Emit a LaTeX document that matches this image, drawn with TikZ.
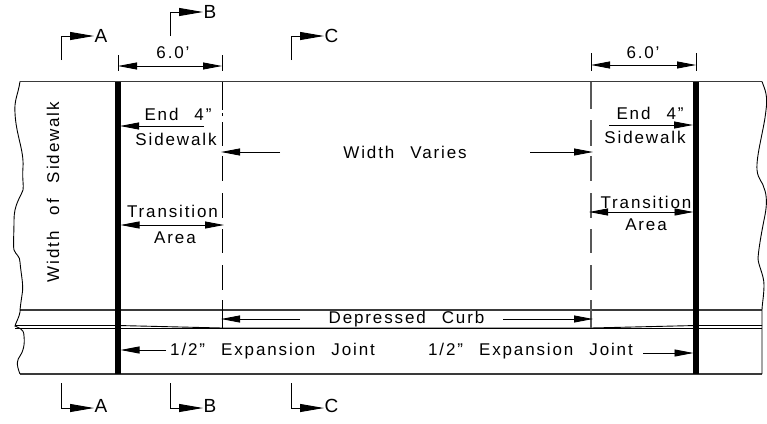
\documentclass[tikz,border=0pt]{standalone}
\usepackage{fontspec}
\setmainfont[LetterSpace=11]{Liberation Sans}
\newfontfamily\secfont{Liberation Sans}
\usetikzlibrary{arrows.meta}
\definecolor{ink}{HTML}{3A3A3A}
\tikzset{
  line/.style={draw=ink,line width=1.2pt},
  thin line/.style={draw=black,line width=0.9pt},
  joint/.style={draw=black,line width=5.5pt},
  dashleft/.style={draw=black,line width=0.9pt},
  dashright/.style={draw=ink!85,line width=1.4pt},
  dim/.style={draw=black,line width=0.9pt,-{Triangle[length=19pt,width=7pt]}},
  dimboth/.style={draw=black,line width=0.9pt,{Triangle[length=19pt,width=7pt]}-{Triangle[length=19pt,width=7pt]}},
  sect/.style={draw=black,line width=0.9pt,-{Triangle[length=24pt,width=8pt]}},
  lab/.style={font=\fontsize{17}{19}\selectfont,inner sep=0pt,text=black},
  seclab/.style={font=\secfont\fontsize{19}{20}\selectfont,inner sep=0pt,text=black}
}
\newcommand{\gp}{\hspace{16pt}}
\begin{document}
\begin{tikzpicture}[x=1pt,y=-1pt]
\useasboundingbox (0,0) rectangle (767,423);
% outline
\draw[line] (20,81.5) -- (762,81.5);
\draw[line] (20,374) -- (762,374);
\draw[line] (20,310) -- (762,310);
\draw[thin line] (15,325.5) -- (118,325.5) -- (222,328) -- (591,328) -- (696,325.5) -- (762,325.5);
\draw[thin line] (15,328) -- (762,328);
% break lines
\draw[thin line] (20,81.5) .. controls (18,95) and (14,100) .. (15,113) .. controls (16,135) and (24,150) .. (23,167) .. controls (22,180) and (24,185) .. (23,190) .. controls (20,198) and (14,205) .. (14,220) .. controls (14,235) and (13,245) .. (14,250) .. controls (16,255) and (20,256) .. (20,262) .. controls (21,275) and (24,285) .. (22,295) .. controls (21,302) and (20,308) .. (20,312) .. controls (19,318) and (16,322) .. (15,326) .. controls (18,328) and (24,328) .. (24,336) .. controls (25,345) and (23,352) .. (20,356) .. controls (17,360) and (16,364) .. (20,374);
\draw[thin line] (762,81.5) .. controls (765,90) and (768,95) .. (766,110) .. controls (764,130) and (756,155) .. (757,170) .. controls (758,180) and (763,182) .. (764,188) .. controls (767,195) and (767,205) .. (765,215) .. controls (763,225) and (759,245) .. (758,258) .. controls (758,265) and (764,275) .. (764,285) .. controls (764,295) and (762,305) .. (762,310) -- (762,374);
% dashed lines
\foreach \a/\b in {81.5/110,113/116,122/146,156/181,193/218,229/253,265/290,300/328}{
  \draw[dashleft] (222,\a) -- (222,\b);
}
\foreach \a/\b in {81.5/109,120/146,156/181,193/218,229/253,265/290,300/328}{
  \draw[dashright] (591,\a) -- (591,\b);
}
% expansion joints
\draw[joint] (118,81.5) -- (118,374);
\draw[joint] (696,81.5) -- (696,374);
% section marks
\foreach \n/\x/\yt/\yb/\l in {A/61/36/408/A,B/170/12/408/B,C/291/36/408/C}{
  \coordinate (t\n a) at (\x,\yt+24);
  \coordinate (t\n b) at (\x,\yt);
  \coordinate (t\n c) at (\x+33,\yt);
  \coordinate (b\n a) at (\x,\yb-25);
  \coordinate (b\n b) at (\x,\yb);
  \coordinate (b\n c) at (\x+33,\yb);
  \draw[sect] (t\n a) -- (t\n b) -- (t\n c);
  \draw[sect] (b\n a) -- (b\n b) -- (b\n c);
  \node[seclab,anchor=west] (tl\n) at (\x+33.5,\yt) {\l};
  \node[seclab,anchor=west] (bl\n) at (\x+33.5,\yb-2) {\l};
}
% 6.0' dimensions
\coordinate (d1a) at (118,66); \coordinate (d1b) at (222,66);
\coordinate (d2a) at (591,65); \coordinate (d2b) at (696,65);
\draw[thin line] (118,55) -- (118,71);
\draw[thin line] (222,55) -- (222,71);
\draw[thin line] (591,53) -- (591,71);
\draw[thin line] (696,53) -- (696,71);
\draw[dimboth] (d1a) -- (d1b);
\draw[dimboth] (d2a) -- (d2b);
\node[lab] (six1) at (173,53) {6.0'};
\node[lab] (six2) at (643,53) {6.0'};
% left labels
\node[lab] (e1) at (178,114) {End\gp 4"};
\node[lab] (s1) at (176,139) {Sidewalk};
\node[lab] (t1) at (172.5,211) {Transition};
\node[lab] (a1) at (175,238) {Area};
\coordinate (e1a) at (204,126); \coordinate (e1b) at (120,126);
\draw[dim] (e1a) -- (e1b);
\coordinate (t1a) at (120.5,225); \coordinate (t1b) at (224,225);
\draw[dimboth] (t1a) -- (t1b);
% right labels
\node[lab] (e2) at (650,113) {End\gp 4"};
\node[lab] (s2) at (645,137) {Sidewalk};
\node[lab] (t2) at (646,202) {Transition};
\node[lab] (a2) at (646,225) {Area};
\coordinate (e2a) at (609,125); \coordinate (e2b) at (693,125);
\draw[dim] (e2a) -- (e2b);
\coordinate (t2a) at (589,212); \coordinate (t2b) at (693.5,212);
\draw[dimboth] (t2a) -- (t2b);
% width varies
\node[lab] (wv) at (405,152) {Width\gp Varies};
\coordinate (wa) at (280,152); \coordinate (wb) at (221,152);
\coordinate (wc) at (530,152); \coordinate (wd) at (593,152);
\draw[dim] (wa) -- (wb);
\draw[dim] (wc) -- (wd);
% depressed curb
\node[lab] (dc) at (406.5,319) {Depressed\gp Curb};
\coordinate (da) at (300,319); \coordinate (db) at (221,319);
\coordinate (dc1) at (503,319); \coordinate (dd) at (593,319);
\draw[dim] (da) -- (db);
\draw[dim] (dc1) -- (dd);
% expansion labels
\node[lab,anchor=west] (x1) at (170,351.5) {1/2"\gp Expansion\gp Joint};
\node[lab,anchor=east] (x2) at (633,351.5) {1/2"\gp Expansion\gp Joint};
\coordinate (xa) at (166,350); \coordinate (xb) at (120.5,350);
\coordinate (xc) at (643,353); \coordinate (xd) at (693.5,353);
\draw[dim] (xa) -- (xb);
\draw[dim] (xc) -- (xd);
% sidewalk width
\node[lab,rotate=90] (ws) at (53,192) {Width\gp of\gp Sidewalk};
\end{tikzpicture}
\end{document}
